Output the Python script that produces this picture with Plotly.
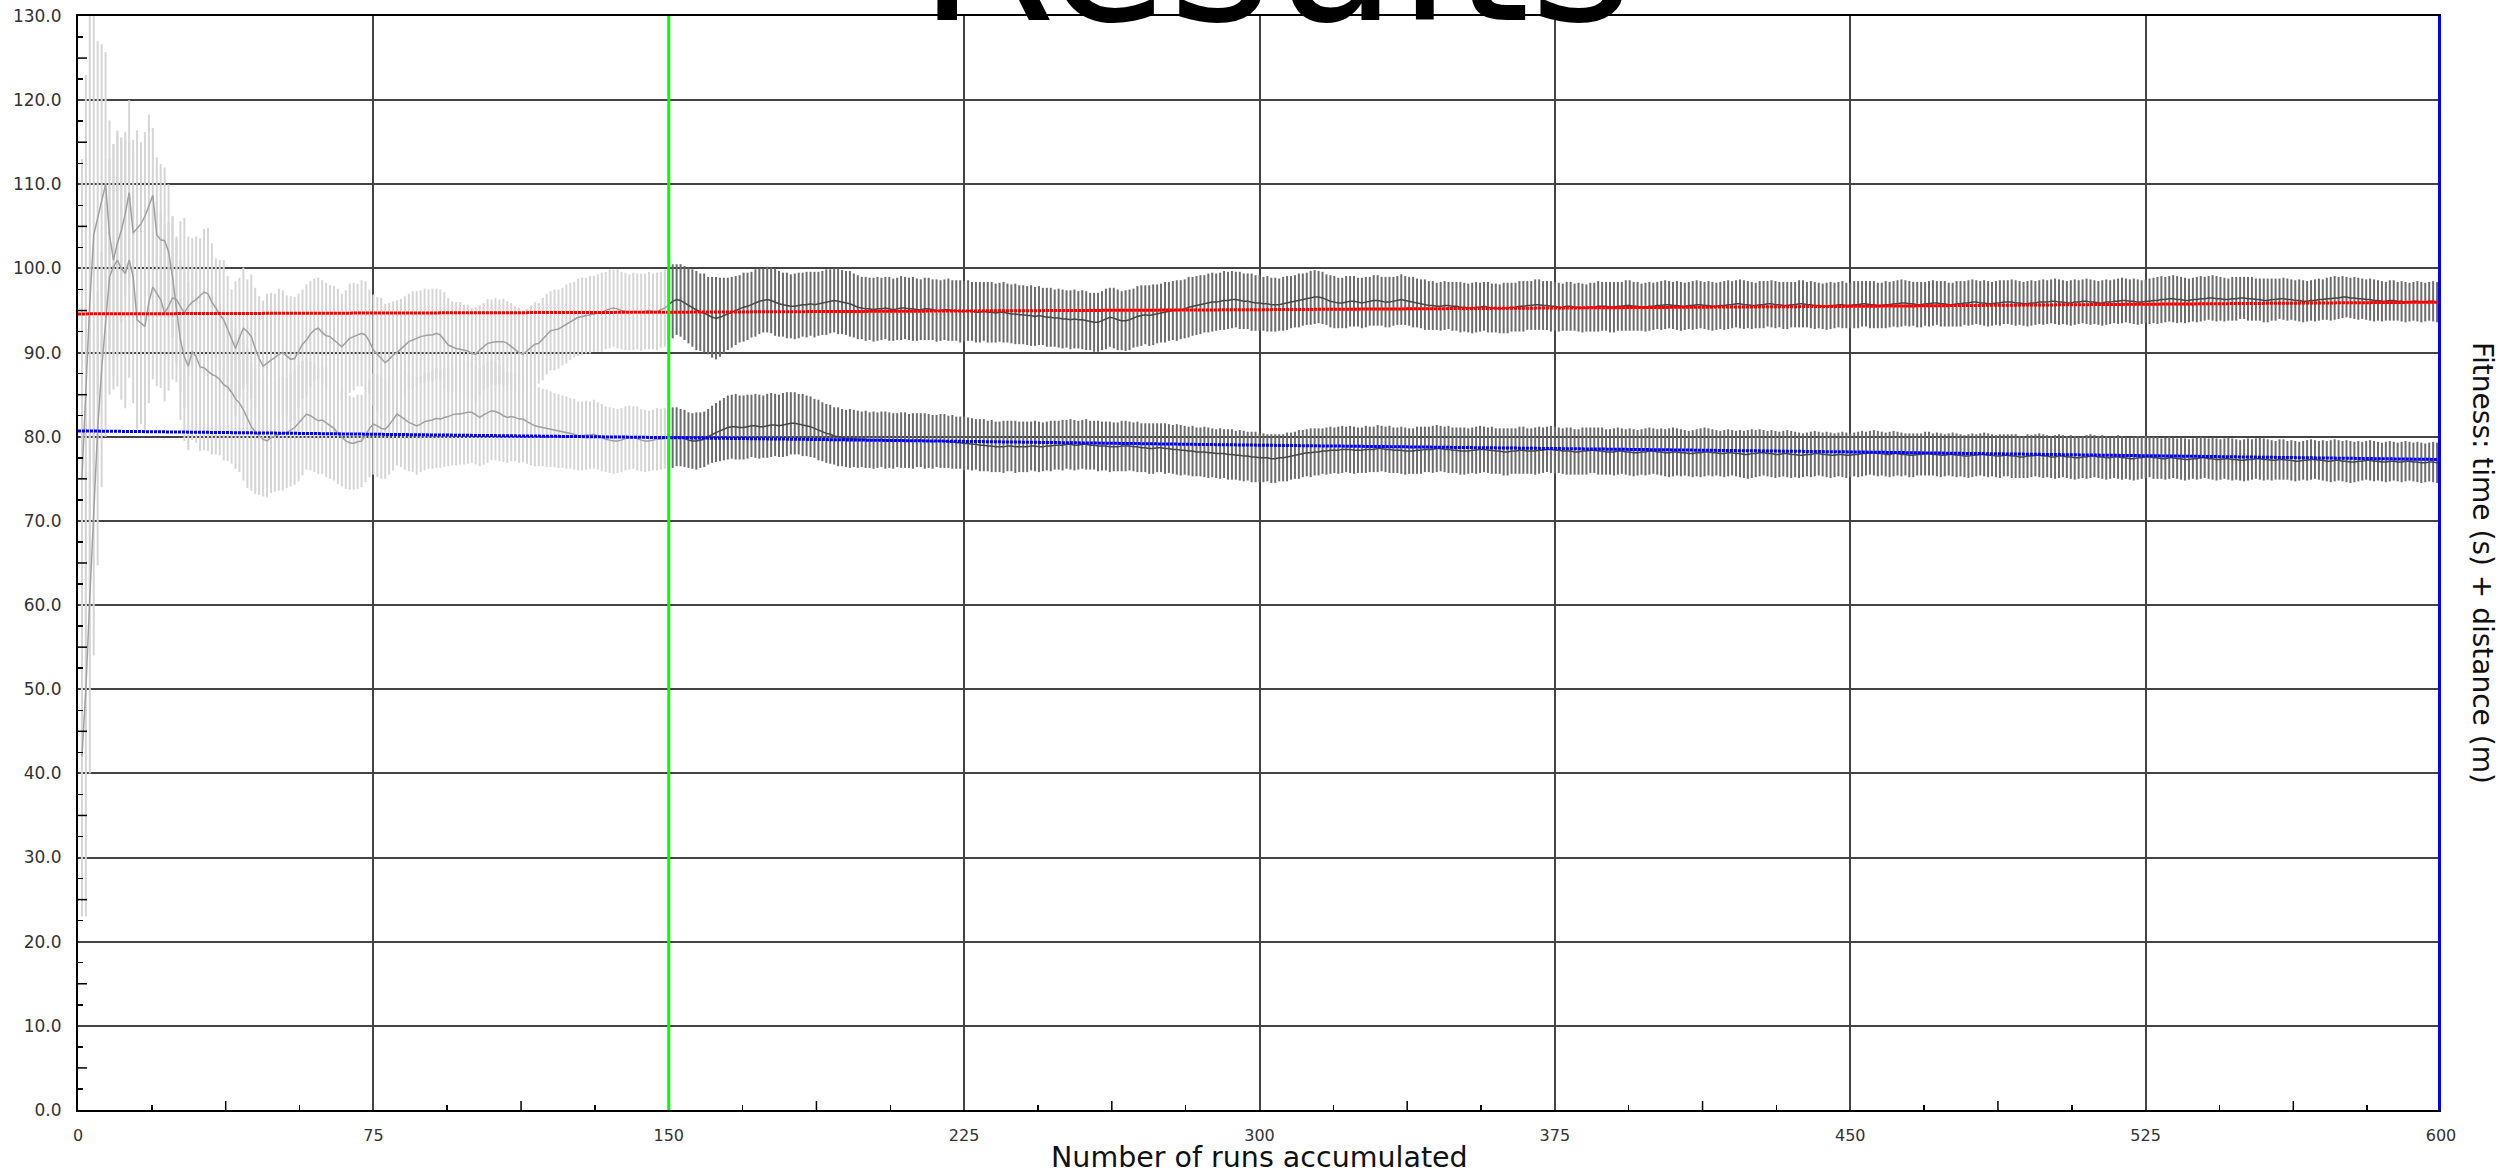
import plotly.graph_objects as go

# ---------------- data ----------------
runs = list(range(1, 601))
phase_change_run = 150          # bars/lines before this run are drawn light
marker_runs = [150, 600]
marker_colors = ["#00ff00", "#0000ff"]
marker_widths = [3, 6]

upper_mean = [
    42, 50, 61, 72, 81, 88, 94, 99, 100.2, 101,
    100, 99.4, 101, 99, 93.9, 93.5, 93.1, 96, 97.8, 97,
    96.3, 94.7, 95.5, 96.5, 96.3, 95.5, 94.7, 95.5, 96, 96.3,
    96.8, 97.2, 97, 96, 95.3, 94.5, 93.9, 92.8, 91.5, 90.5,
    91.8, 92.9, 92.5, 91.9, 90.5, 89.3, 88.4, 88.8, 89.1, 89.4,
    89.8, 90, 89.6, 89.2, 89.3, 90.2, 91, 91.5, 92.2, 92.7,
    92.9, 92.4, 92, 91.9, 91.5, 91, 90.7, 91.2, 91.7, 91.9,
    92.1, 92.3, 92.1, 91.3, 90.3, 89.8, 89.3, 88.8, 89.2, 89.7,
    90, 90.4, 90.9, 91.3, 91.5, 91.7, 91.9, 92, 92.1, 92.1,
    92.3, 92.1, 91.5, 90.9, 90.7, 90.5, 90.4, 90.3, 90.2, 89.9,
    89.8, 90.3, 90.7, 91.1, 91.2, 91.3, 91.3, 91.3, 91.1, 90.7,
    90.4, 90, 89.8, 90.2, 90.7, 91, 91.1, 91.6, 92.2, 92.6,
    92.7, 92.8, 93.1, 93.4, 93.7, 93.9, 94.2, 94.3, 94.4, 94.5,
    94.6, 94.7, 94.8, 95, 95.2, 95.3, 95.2, 95, 94.9, 94.8,
    94.9, 94.9, 94.8, 94.9, 95, 94.9, 94.9, 95.1, 95.3, 95.7,
    96.1, 96.3, 96.2, 95.9, 95.6, 95.3, 95.0, 94.8, 94.7, 94.4,
    94.2, 94.1, 94.2, 94.4, 94.6, 94.8, 95.0, 95.2, 95.4, 95.5,
    95.7, 95.9, 96.1, 96.2, 96.3, 96.2, 96.0, 95.8, 95.7, 95.6,
    95.5, 95.5, 95.6, 95.7, 95.7, 95.8, 95.7, 95.8, 95.9, 96.0,
    96.1, 96.2, 96.1, 96.0, 95.9, 95.8, 95.6, 95.4, 95.3, 95.2,
    95.2, 95.1, 95.2, 95.2, 95.3, 95.2, 95.1, 95.2, 95.3, 95.3,
    95.2, 95.2, 95.1, 95.1, 95.2, 95.2, 95.1, 95.0, 95.0, 95.1,
    95.1, 95.0, 95.0, 94.9, 94.9, 95.0, 94.9, 94.8, 94.8, 94.9,
    94.8, 94.8, 94.7, 94.8, 94.8, 94.7, 94.6, 94.6, 94.5, 94.5,
    94.4, 94.4, 94.3, 94.4, 94.3, 94.2, 94.2, 94.1, 94.1, 94.0,
    94.0, 93.9, 94.0, 93.9, 93.9, 93.8, 93.7, 93.6, 93.6, 93.8,
    94.0, 94.2, 94.1, 93.9, 93.8, 93.8, 93.9, 94.1, 94.3, 94.4,
    94.5, 94.4, 94.5, 94.6, 94.7, 94.8, 94.9, 95.0, 95.0, 95.1,
    95.2, 95.4, 95.5, 95.6, 95.7, 95.8, 95.9, 96.0, 96.0, 96.1,
    96.2, 96.2, 96.3, 96.3, 96.2, 96.1, 96.1, 96.0, 95.9, 95.9,
    95.8, 95.8, 95.7, 95.7, 95.7, 95.8, 95.9, 96.0, 96.1, 96.2,
    96.3, 96.4, 96.5, 96.6, 96.6, 96.5, 96.3, 96.1, 96.0, 95.9,
    95.9, 96.0, 96.1, 96.1, 96.0, 95.9, 96.0, 96.1, 96.2, 96.2,
    96.1, 96.0, 96.0, 96.1, 96.2, 96.3, 96.2, 96.1, 96.0, 95.9,
    95.8, 95.7, 95.6, 95.6, 95.5, 95.5, 95.6, 95.6, 95.5, 95.5,
    95.4, 95.4, 95.3, 95.3, 95.4, 95.4, 95.5, 95.4, 95.3, 95.3,
    95.2, 95.3, 95.3, 95.4, 95.4, 95.5, 95.5, 95.6, 95.6, 95.7,
    95.7, 95.6, 95.6, 95.5, 95.5, 95.4, 95.4, 95.5, 95.5, 95.4,
    95.4, 95.3, 95.3, 95.4, 95.4, 95.5, 95.5, 95.5, 95.4, 95.4,
    95.5, 95.5, 95.6, 95.6, 95.5, 95.5, 95.4, 95.4, 95.5, 95.5,
    95.6, 95.6, 95.7, 95.7, 95.6, 95.6, 95.5, 95.5, 95.6, 95.6,
    95.7, 95.7, 95.6, 95.6, 95.5, 95.5, 95.6, 95.6, 95.7, 95.7,
    95.8, 95.8, 95.7, 95.7, 95.6, 95.6, 95.7, 95.7, 95.8, 95.8,
    95.7, 95.7, 95.6, 95.6, 95.7, 95.7, 95.8, 95.8, 95.7, 95.7,
    95.6, 95.6, 95.5, 95.5, 95.6, 95.6, 95.7, 95.7, 95.6, 95.6,
    95.7, 95.7, 95.8, 95.8, 95.7, 95.7, 95.6, 95.6, 95.7, 95.7,
    95.8, 95.8, 95.9, 95.9, 95.8, 95.8, 95.7, 95.7, 95.8, 95.8,
    95.9, 95.9, 95.8, 95.8, 95.7, 95.7, 95.8, 95.8, 95.9, 95.9,
    96.0, 96.0, 95.9, 95.9, 95.8, 95.8, 95.9, 95.9, 96.0, 96.0,
    96.0, 95.9, 95.9, 95.8, 95.8, 95.9, 95.9, 96.0, 96.0, 96.0,
    96.1, 96.1, 96.0, 96.0, 95.9, 95.9, 96.0, 96.0, 96.1, 96.1,
    96.0, 96.0, 95.9, 95.9, 96.0, 96.0, 96.1, 96.1, 96.2, 96.2,
    96.1, 96.1, 96.0, 96.0, 96.1, 96.1, 96.2, 96.2, 96.3, 96.3,
    96.4, 96.4, 96.3, 96.3, 96.2, 96.2, 96.3, 96.3, 96.4, 96.4,
    96.5, 96.5, 96.4, 96.4, 96.3, 96.3, 96.4, 96.4, 96.5, 96.5,
    96.4, 96.4, 96.3, 96.3, 96.2, 96.2, 96.3, 96.3, 96.4, 96.4,
    96.3, 96.3, 96.2, 96.2, 96.1, 96.1, 96.2, 96.2, 96.3, 96.3,
    96.4, 96.4, 96.5, 96.5, 96.6, 96.6, 96.5, 96.5, 96.4, 96.4,
    96.3, 96.3, 96.2, 96.2, 96.1, 96.1, 96.2, 96.2, 96.1, 96.1,
    96.0, 96.0, 96.1, 96.1, 96.0, 96.0, 96.1, 96.1, 96.0, 96.0,
]

upper_std = [
    19, 27, 21, 18, 16.3, 14, 14, 14, 14.6, 15,
    15.6, 16, 14, 15, 13, 12, 12.5, 12, 11, 11,
    10.5, 10.5, 10, 9.7, 7.5, 10.1, 11.3, 8.3, 7.6, 7.5,
    6.8, 7.5, 7.8, 7, 5.9, 6.5, 7.1, 6.3, 6, 8,
    7.1, 7.2, 6.2, 7.4, 7.2, 7.4, 7.8, 8.2, 8.0, 7.6,
    7.8, 7.4, 7.2, 7.5, 7.3, 6.8, 6.5, 6.6, 6.3, 6.1,
    6.0, 6.2, 6.3, 6.1, 6.4, 6.6, 6.3, 6.2, 6.5, 6.4,
    6.1, 6.3, 6.4, 6.2, 6.6, 6.8, 7.2, 7.0, 6.7, 6.4,
    6.2, 6.0, 5.8, 5.7, 5.8, 5.6, 5.5, 5.6, 5.4, 5.5,
    5.3, 5.4, 5.7, 5.6, 5.4, 5.5, 5.6, 5.4, 5.5, 5.4,
    5.6, 5.3, 5.2, 5.3, 5.1, 5.2, 5.0, 5.1, 5.0, 5.2,
    5.1, 5.3, 5.2, 5.0, 4.9, 5.0, 4.8, 4.9, 4.8, 4.7,
    4.8, 4.7, 4.6, 4.7, 4.6, 4.5, 4.6, 4.6, 4.5, 4.6,
    4.5, 4.6, 4.7, 4.6, 4.7, 4.6, 4.7, 4.6, 4.6, 4.5,
    4.6, 4.5, 4.6, 4.5, 4.6, 4.5, 4.6, 4.5, 4.6, 4.3,
    4.4, 4.2, 4.3, 4.4, 4.5, 4.6, 4.7, 4.6, 4.7, 4.6,
    4.8, 4.9, 4.7, 4.5, 4.3, 4.2, 4.1, 4.0, 4.1, 4.0,
    3.9, 4.0, 3.9, 3.8, 3.9, 3.9, 4.0, 3.9, 3.8, 3.9,
    3.8, 3.9, 3.9, 3.8, 3.9, 3.8, 3.9, 3.8, 3.8, 3.9,
    3.8, 3.8, 3.9, 3.8, 3.8, 3.9, 3.8, 3.8, 3.7, 3.8,
    3.7, 3.8, 3.8, 3.7, 3.7, 3.8, 3.7, 3.7, 3.8, 3.7,
    3.7, 3.8, 3.7, 3.6, 3.7, 3.7, 3.6, 3.7, 3.6, 3.6,
    3.7, 3.6, 3.6, 3.7, 3.6, 3.6, 3.5, 3.6, 3.6, 3.5,
    3.6, 3.6, 3.5, 3.5, 3.6, 3.5, 3.5, 3.6, 3.5, 3.5,
    3.5, 3.6, 3.5, 3.5, 3.4, 3.5, 3.5, 3.4, 3.5, 3.5,
    3.4, 3.5, 3.5, 3.4, 3.5, 3.5, 3.4, 3.5, 3.5, 3.5,
    3.6, 3.5, 3.6, 3.6, 3.5, 3.6, 3.6, 3.5, 3.6, 3.6,
    3.5, 3.6, 3.6, 3.5, 3.5, 3.6, 3.5, 3.5, 3.6, 3.5,
    3.5, 3.6, 3.5, 3.5, 3.5, 3.4, 3.5, 3.5, 3.4, 3.4,
    3.5, 3.4, 3.4, 3.3, 3.4, 3.3, 3.3, 3.4, 3.3, 3.3,
    3.2, 3.3, 3.2, 3.2, 3.1, 3.2, 3.2, 3.1, 3.1, 3.2,
    3.1, 3.1, 3.2, 3.2, 3.1, 3.1, 3.0, 3.1, 3.1, 3.0,
    3.0, 3.1, 3.0, 3.0, 2.9, 3.0, 3.0, 2.9, 3.0, 3.0,
    2.9, 3.0, 3.0, 2.9, 2.9, 3.0, 2.9, 2.9, 3.0, 2.9,
    2.9, 3.0, 2.9, 2.9, 2.8, 2.9, 2.9, 2.8, 2.9, 2.9,
    3.0, 2.9, 2.9, 3.0, 3.0, 2.9, 2.9, 3.0, 2.9, 2.9,
    2.9, 3.0, 3.0, 2.9, 2.9, 3.0, 3.0, 2.9, 2.9, 3.0,
    3.0, 2.9, 2.9, 3.0, 2.9, 2.9, 2.8, 2.9, 2.9, 2.8,
    2.9, 2.9, 2.8, 2.9, 2.9, 3.0, 2.9, 2.9, 3.0, 3.0,
    2.9, 2.9, 3.0, 3.0, 2.9, 2.9, 2.8, 2.9, 2.9, 2.8,
    2.8, 2.9, 2.9, 2.8, 2.8, 2.9, 2.9, 2.8, 2.8, 2.9,
    2.9, 2.8, 2.8, 2.9, 2.9, 2.8, 2.8, 2.9, 2.9, 2.8,
    2.8, 2.9, 2.9, 2.8, 2.8, 2.7, 2.8, 2.8, 2.7, 2.8,
    2.8, 2.7, 2.8, 2.8, 2.7, 2.7, 2.8, 2.8, 2.7, 2.8,
    2.8, 2.7, 2.7, 2.8, 2.8, 2.7, 2.7, 2.8, 2.7, 2.7,
    2.8, 2.8, 2.7, 2.7, 2.8, 2.8, 2.7, 2.7, 2.8, 2.7,
    2.7, 2.8, 2.8, 2.7, 2.7, 2.6, 2.7, 2.7, 2.6, 2.7,
    2.7, 2.6, 2.7, 2.7, 2.6, 2.6, 2.7, 2.7, 2.6, 2.7,
    2.7, 2.6, 2.6, 2.7, 2.7, 2.6, 2.6, 2.7, 2.6, 2.6,
    2.7, 2.7, 2.6, 2.6, 2.7, 2.7, 2.6, 2.6, 2.7, 2.6,
    2.6, 2.7, 2.7, 2.6, 2.6, 2.7, 2.7, 2.6, 2.6, 2.7,
    2.7, 2.6, 2.6, 2.7, 2.7, 2.6, 2.6, 2.7, 2.7, 2.6,
    2.6, 2.7, 2.7, 2.6, 2.6, 2.7, 2.7, 2.8, 2.8, 2.7,
    2.7, 2.8, 2.8, 2.7, 2.7, 2.6, 2.6, 2.7, 2.7, 2.6,
    2.6, 2.7, 2.7, 2.6, 2.6, 2.5, 2.6, 2.6, 2.5, 2.5,
    2.6, 2.6, 2.5, 2.5, 2.6, 2.6, 2.5, 2.5, 2.4, 2.5,
    2.5, 2.4, 2.4, 2.5, 2.5, 2.4, 2.4, 2.5, 2.5, 2.4,
    2.5, 2.6, 2.6, 2.5, 2.5, 2.4, 2.4, 2.5, 2.5, 2.4,
    2.4, 2.5, 2.5, 2.4, 2.4, 2.3, 2.4, 2.4, 2.3, 2.4,
    2.4, 2.3, 2.3, 2.4, 2.4, 2.3, 2.3, 2.4, 2.4, 2.3,
]

lower_mean = [
    75, 85, 96, 104, 106, 108, 110, 104, 101, 103,
    104.5, 106.5, 109, 104.2, 104.7, 105.3, 106.2, 107.5, 108.7, 104,
    103.4, 103.3, 102, 99, 95, 91.5, 89.5, 88.4, 90.1, 89.5,
    88.3, 88.2, 87.8, 87.4, 87.2, 86.8, 86.2, 85.9, 85.3, 84.5,
    84, 83.2, 82.2, 81.2, 80.6, 80.1, 79.7, 79.5, 79.9, 80.1,
    80.3, 80.4, 80.5, 80.8, 81.1, 81.6, 82.2, 82.7, 82.5, 82.2,
    81.9, 82, 81.7, 81.3, 81, 80.4, 79.9, 79.5, 79.3, 79.2,
    79.4, 79.5, 80.2, 81, 81.5, 81.3, 81, 80.9, 81.4, 82,
    82.7, 82.4, 82, 81.7, 81.5, 81.3, 81.5, 81.8, 81.9, 82,
    82.2, 82.1, 82.3, 82.4, 82.6, 82.7, 82.7, 82.8, 82.9, 82.9,
    82.6, 82.3, 82.6, 82.9, 83.1, 83, 82.8, 82.5, 82.3, 82.4,
    82.3, 82.1, 82.1, 81.8, 81.5, 81.3, 81.2, 81.1, 81, 80.9,
    80.8, 80.7, 80.6, 80.5, 80.4, 80.3, 80.1, 80.1, 80.2, 80.2,
    80.3, 80.1, 79.9, 79.7, 79.6, 79.5, 79.5, 79.6, 79.8, 79.9,
    79.9, 79.8, 79.6, 79.5, 79.5, 79.6, 79.7, 79.7, 79.8, 79.8,
    79.9, 80.0, 79.9, 79.8, 79.6, 79.5, 79.5, 79.6, 79.7, 80.0,
    80.3, 80.5, 80.7, 80.9, 81.1, 81.2, 81.2, 81.1, 81.1, 81.2,
    81.3, 81.3, 81.2, 81.2, 81.3, 81.4, 81.4, 81.3, 81.4, 81.5,
    81.6, 81.6, 81.5, 81.4, 81.3, 81.2, 81.0, 80.8, 80.6, 80.4,
    80.3, 80.1, 80.0, 79.9, 79.8, 79.8, 79.8, 79.7, 79.7, 79.7,
    79.6, 79.6, 79.6, 79.7, 79.6, 79.6, 79.5, 79.6, 79.6, 79.6,
    79.5, 79.5, 79.6, 79.6, 79.5, 79.5, 79.4, 79.5, 79.5, 79.5,
    79.4, 79.4, 79.3, 79.3, 79.2, 79.2, 79.1, 79.1, 79.0, 79.0,
    78.9, 78.9, 78.8, 78.8, 78.8, 78.9, 78.9, 78.8, 78.8, 78.8,
    78.8, 78.9, 78.9, 78.8, 78.8, 78.9, 78.9, 79.0, 79.0, 79.0,
    79.1, 79.1, 79.0, 79.0, 79.1, 79.1, 79.0, 79.0, 78.9, 78.9,
    78.9, 78.8, 78.8, 78.8, 78.9, 78.9, 78.9, 78.8, 78.8, 78.7,
    78.7, 78.6, 78.6, 78.7, 78.7, 78.6, 78.6, 78.5, 78.5, 78.4,
    78.4, 78.3, 78.3, 78.2, 78.2, 78.2, 78.1, 78.1, 78.0, 78.0,
    78.0, 77.9, 77.9, 77.8, 77.8, 77.7, 77.7, 77.6, 77.6, 77.5,
    77.5, 77.5, 77.4, 77.4, 77.5, 77.5, 77.6, 77.7, 77.8, 77.9,
    78.0, 78.1, 78.1, 78.2, 78.2, 78.3, 78.3, 78.4, 78.4, 78.4,
    78.5, 78.5, 78.5, 78.4, 78.4, 78.4, 78.5, 78.5, 78.5, 78.6,
    78.6, 78.5, 78.5, 78.4, 78.4, 78.4, 78.3, 78.3, 78.3, 78.4,
    78.4, 78.5, 78.5, 78.5, 78.6, 78.6, 78.5, 78.5, 78.4, 78.4,
    78.3, 78.3, 78.3, 78.4, 78.4, 78.5, 78.5, 78.4, 78.4, 78.3,
    78.3, 78.2, 78.2, 78.3, 78.3, 78.4, 78.4, 78.3, 78.3, 78.3,
    78.4, 78.4, 78.5, 78.5, 78.4, 78.4, 78.3, 78.3, 78.3, 78.2,
    78.2, 78.3, 78.3, 78.4, 78.4, 78.3, 78.3, 78.2, 78.2, 78.2,
    78.3, 78.3, 78.2, 78.2, 78.1, 78.1, 78.2, 78.2, 78.3, 78.3,
    78.2, 78.2, 78.1, 78.1, 78.2, 78.2, 78.1, 78.1, 78.0, 78.0,
    78.1, 78.1, 78.2, 78.2, 78.1, 78.1, 78.0, 78.0, 78.1, 78.1,
    78.0, 78.0, 77.9, 77.9, 78.0, 78.0, 78.1, 78.1, 78.0, 78.0,
    77.9, 77.9, 78.0, 78.0, 77.9, 77.9, 77.8, 77.8, 77.9, 77.9,
    78.0, 78.0, 77.9, 77.9, 77.8, 77.8, 77.9, 77.9, 77.8, 77.8,
    77.9, 77.9, 78.0, 78.0, 78.1, 78.1, 78.0, 78.0, 77.9, 77.9,
    78.0, 78.0, 77.9, 77.9, 77.8, 77.8, 77.9, 77.9, 78.0, 78.0,
    77.9, 77.9, 77.8, 77.8, 77.9, 77.9, 77.8, 77.8, 77.7, 77.7,
    77.8, 77.8, 77.9, 77.9, 77.8, 77.8, 77.7, 77.7, 77.8, 77.8,
    77.7, 77.7, 77.6, 77.6, 77.7, 77.7, 77.8, 77.8, 77.7, 77.7,
    77.6, 77.6, 77.7, 77.7, 77.6, 77.6, 77.5, 77.5, 77.6, 77.6,
    77.7, 77.7, 77.6, 77.6, 77.5, 77.5, 77.6, 77.6, 77.5, 77.5,
    77.4, 77.4, 77.5, 77.5, 77.6, 77.6, 77.5, 77.5, 77.4, 77.4,
    77.5, 77.5, 77.4, 77.4, 77.3, 77.3, 77.4, 77.4, 77.5, 77.5,
    77.4, 77.4, 77.3, 77.3, 77.4, 77.4, 77.3, 77.3, 77.2, 77.2,
    77.3, 77.3, 77.4, 77.4, 77.3, 77.3, 77.2, 77.2, 77.3, 77.3,
    77.2, 77.2, 77.1, 77.1, 77.2, 77.2, 77.3, 77.3, 77.2, 77.2,
    77.1, 77.1, 77.2, 77.2, 77.1, 77.1, 77.0, 77.0, 77.1, 77.1,
    77.2, 77.2, 77.1, 77.1, 77.0, 77.0, 77.1, 77.1, 77.0, 77.0,
    77.1, 77.1, 77.0, 77.0, 76.9, 76.9, 77.0, 77.0, 76.9, 76.9,
]

lower_std = [
    38, 38, 34, 30, 21, 18.6, 15.7, 13.6, 13.8, 13.4,
    11, 9.7, 11, 11.1, 11.7, 9.7, 10, 10.8, 8, 9.2,
    9, 8.7, 8, 7.2, 8.5, 9.5, 10, 10, 10.5, 10.2,
    10, 9.8, 9.5, 9.5, 9.3, 9, 9, 8.8, 8.5, 8.3,
    8.2, 8.4, 8.3, 7.6, 7.4, 7.0, 6.8, 6.7, 6.6, 6.6,
    6.7, 6.8, 6.6, 6.7, 6.8, 6.9, 6.8, 6.6, 6.5, 6.4,
    6.3, 6.4, 6.5, 6.3, 6.2, 6.0, 5.8, 5.7, 5.6, 5.5,
    5.6, 5.5, 5.6, 5.8, 6.0, 6.1, 6.0, 5.9, 5.9, 6.0,
    6.1, 6.0, 5.9, 5.8, 5.7, 5.8, 5.7, 5.8, 5.7, 5.8,
    5.9, 5.8, 5.9, 5.9, 6.0, 6.1, 6.0, 6.1, 6.1, 6.0,
    5.9, 5.8, 5.9, 6.0, 5.9, 5.8, 5.7, 5.5, 5.4, 5.3,
    5.2, 5.2, 5.1, 5.0, 4.9, 4.8, 4.7, 4.6, 4.6, 4.5,
    4.4, 4.4, 4.3, 4.3, 4.2, 4.2, 4.1, 4.1, 4.1, 4.0,
    4.1, 4.0, 4.0, 3.9, 3.9, 3.9, 3.8, 3.8, 3.8, 3.8,
    3.7, 3.8, 3.7, 3.7, 3.6, 3.6, 3.7, 3.6, 3.6, 3.5,
    3.6, 3.5, 3.4, 3.4, 3.3, 3.3, 3.4, 3.3, 3.3, 3.3,
    3.4, 3.5, 3.6, 3.7, 3.8, 3.8, 3.9, 3.8, 3.8, 3.8,
    3.7, 3.8, 3.8, 3.7, 3.8, 3.8, 3.7, 3.7, 3.8, 3.8,
    3.7, 3.7, 3.6, 3.7, 3.6, 3.6, 3.5, 3.6, 3.5, 3.5,
    3.5, 3.4, 3.5, 3.4, 3.4, 3.5, 3.4, 3.4, 3.3, 3.4,
    3.3, 3.4, 3.3, 3.3, 3.4, 3.3, 3.3, 3.2, 3.3, 3.3,
    3.2, 3.3, 3.2, 3.2, 3.3, 3.2, 3.2, 3.1, 3.2, 3.2,
    3.1, 3.2, 3.1, 3.1, 3.2, 3.1, 3.1, 3.0, 3.1, 3.1,
    3.0, 3.1, 3.0, 3.0, 3.1, 3.0, 3.0, 3.1, 3.0, 3.0,
    3.0, 2.9, 3.0, 3.0, 2.9, 2.9, 3.0, 2.9, 2.9, 3.0,
    2.9, 3.0, 3.0, 2.9, 2.9, 3.0, 2.9, 2.9, 3.0, 2.9,
    2.9, 3.0, 2.9, 2.9, 3.0, 3.0, 2.9, 2.9, 3.0, 2.9,
    2.9, 3.0, 3.0, 2.9, 2.9, 3.0, 2.9, 2.9, 3.0, 3.0,
    2.9, 2.9, 3.0, 2.9, 2.9, 3.0, 3.0, 2.9, 2.9, 3.0,
    2.9, 3.0, 3.0, 2.9, 3.0, 3.0, 2.9, 3.0, 3.0, 2.9,
    2.9, 2.8, 2.9, 2.9, 2.8, 2.8, 2.9, 2.8, 2.8, 2.9,
    2.8, 2.8, 2.9, 2.8, 2.8, 2.7, 2.8, 2.8, 2.7, 2.8,
    2.8, 2.7, 2.8, 2.8, 2.7, 2.7, 2.8, 2.7, 2.7, 2.8,
    2.7, 2.7, 2.8, 2.7, 2.7, 2.8, 2.8, 2.7, 2.7, 2.8,
    2.8, 2.7, 2.7, 2.8, 2.8, 2.7, 2.7, 2.8, 2.7, 2.7,
    2.8, 2.8, 2.7, 2.7, 2.8, 2.8, 2.7, 2.7, 2.8, 2.7,
    2.7, 2.8, 2.8, 2.7, 2.7, 2.8, 2.8, 2.7, 2.7, 2.8,
    2.8, 2.7, 2.7, 2.8, 2.8, 2.7, 2.7, 2.8, 2.8, 2.7,
    2.7, 2.8, 2.8, 2.7, 2.7, 2.8, 2.8, 2.7, 2.7, 2.8,
    2.8, 2.7, 2.7, 2.8, 2.8, 2.7, 2.7, 2.8, 2.8, 2.7,
    2.7, 2.8, 2.8, 2.9, 2.9, 2.8, 2.8, 2.7, 2.7, 2.8,
    2.8, 2.9, 2.9, 2.8, 2.8, 2.7, 2.7, 2.8, 2.8, 2.7,
    2.7, 2.8, 2.8, 2.9, 2.9, 2.8, 2.8, 2.7, 2.7, 2.8,
    2.8, 2.7, 2.7, 2.8, 2.8, 2.7, 2.7, 2.6, 2.6, 2.7,
    2.7, 2.6, 2.6, 2.7, 2.7, 2.6, 2.6, 2.7, 2.7, 2.6,
    2.6, 2.7, 2.7, 2.6, 2.6, 2.7, 2.7, 2.6, 2.6, 2.7,
    2.7, 2.6, 2.6, 2.5, 2.6, 2.6, 2.5, 2.5, 2.6, 2.6,
    2.5, 2.6, 2.6, 2.5, 2.5, 2.6, 2.6, 2.5, 2.5, 2.6,
    2.6, 2.5, 2.5, 2.6, 2.6, 2.5, 2.5, 2.6, 2.5, 2.5,
    2.6, 2.6, 2.5, 2.5, 2.6, 2.5, 2.5, 2.6, 2.6, 2.5,
    2.5, 2.6, 2.6, 2.5, 2.5, 2.6, 2.6, 2.5, 2.5, 2.6,
    2.6, 2.5, 2.5, 2.6, 2.6, 2.5, 2.5, 2.6, 2.6, 2.5,
    2.5, 2.6, 2.6, 2.5, 2.5, 2.4, 2.5, 2.5, 2.4, 2.5,
    2.5, 2.4, 2.4, 2.5, 2.5, 2.4, 2.4, 2.5, 2.5, 2.4,
    2.4, 2.5, 2.5, 2.4, 2.4, 2.5, 2.5, 2.4, 2.4, 2.5,
    2.5, 2.4, 2.4, 2.5, 2.5, 2.4, 2.4, 2.3, 2.4, 2.4,
    2.3, 2.4, 2.4, 2.3, 2.3, 2.4, 2.4, 2.3, 2.3, 2.4,
    2.4, 2.5, 2.5, 2.4, 2.4, 2.5, 2.5, 2.4, 2.4, 2.3,
    2.3, 2.4, 2.4, 2.3, 2.3, 2.4, 2.4, 2.3, 2.3, 2.4,
    2.4, 2.3, 2.3, 2.4, 2.4, 2.3, 2.3, 2.4, 2.4, 2.3,
]

trend_runs = [0, 150, 300, 450, 600]
upper_trend = [94.6, 94.8, 95.1, 95.5, 96.0]
lower_trend = [80.7, 79.9, 79.0, 78.2, 77.3]

x_ticks = [0, 75, 150, 225, 300, 375, 450, 525, 600]
x_tick_labels = ["0", "75", "150", "225", "300", "375", "450", "525", "600"]
x_mid_ticks = [37.5, 112.5, 187.5, 262.5, 337.5, 412.5, 487.5, 562.5]
x_minor_ticks = [18.75 + 37.5 * k for k in range(16)]
y_ticks = [0, 10, 20, 30, 40, 50, 60, 70, 80, 90, 100, 110, 120, 130]
y_tick_labels = ["0.0", "10.0", "20.0", "30.0", "40.0", "50.0", "60.0", "70.0",
                 "80.0", "90.0", "100.0", "110.0", "120.0", "130.0"]
y_mid_ticks = [5, 15, 25, 35, 45, 55, 65, 75, 85, 95, 105, 115, 125]
y_minor_ticks = [2.5 + 5 * k for k in range(26)]

title_text = "Results"
x_title = "Number of runs accumulated"
y_title = "Fitness: time (s) + distance (m)"

for arr in (upper_mean, upper_std, lower_mean, lower_std):
    assert len(arr) == len(runs), len(arr)

# ---------------- figure ----------------
FONT = "DejaVu Sans"
split = runs.index(phase_change_run)

fig = go.Figure()

def bars(x, y, err, color):
    return go.Scatter(
        x=x, y=y, mode="markers",
        marker=dict(size=1, color="rgba(0,0,0,0)"),
        error_y=dict(type="data", array=err, symmetric=True, color=color,
                     thickness=2, width=0),
        hoverinfo="skip", showlegend=False,
    )

light_bar, dark_bar = "#d5d5d5", "#6c6c6c"
light_line, dark_line = "#a0a0a0", "#474747"

for mean, std in ((upper_mean, upper_std), (lower_mean, lower_std)):
    fig.add_trace(bars(runs[:split], mean[:split], std[:split], light_bar))
for mean, std in ((upper_mean, upper_std), (lower_mean, lower_std)):
    fig.add_trace(bars(runs[split:], mean[split:], std[split:], dark_bar))
for mean in (upper_mean, lower_mean):
    fig.add_trace(go.Scatter(x=runs[:split + 1], y=mean[:split + 1], mode="lines",
                             line=dict(color=light_line, width=1.5),
                             hoverinfo="skip", showlegend=False))
    fig.add_trace(go.Scatter(x=runs[split:], y=mean[split:], mode="lines",
                             line=dict(color=dark_line, width=1.5),
                             hoverinfo="skip", showlegend=False))

fig.add_trace(go.Scatter(x=trend_runs, y=upper_trend, mode="lines",
                         line=dict(color="#ff0000", width=3, dash="3px,1px"),
                         hoverinfo="skip", showlegend=False))
fig.add_trace(go.Scatter(x=trend_runs, y=lower_trend, mode="lines",
                         line=dict(color="#0000ff", width=3, dash="3px,1px"),
                         hoverinfo="skip", showlegend=False))

shapes = []
for v in x_mid_ticks:
    shapes.append(dict(type="line", xref="x", yref="paper", x0=v, x1=v,
                       ysizemode="pixel", yanchor=0, y0=0, y1=9,
                       line=dict(color="black", width=1.5)))
for v in y_mid_ticks:
    shapes.append(dict(type="line", yref="y", xref="paper", y0=v, y1=v,
                       xsizemode="pixel", xanchor=0, x0=0, x1=9,
                       line=dict(color="black", width=1.5)))
for v, c, w in zip(marker_runs, marker_colors, marker_widths):
    shapes.append(dict(type="line", xref="x", yref="paper", x0=v, x1=v,
                       y0=0, y1=1, line=dict(color=c, width=w)))

# page layout: the figure fills the whole 2515x1173 page (body margin removed)
PLOT_LEFT, PLOT_RIGHT, PLOT_TOP, PLOT_BOTTOM = 78, 2441, 16, 1110
W, H = 2515, 1173
L, T = PLOT_LEFT, PLOT_TOP
R, B = W - PLOT_RIGHT, H - PLOT_BOTTOM
plot_w = PLOT_RIGHT - PLOT_LEFT
plot_h = PLOT_BOTTOM - PLOT_TOP

annotations = [
    dict(text=title_text, xref="paper", yref="paper",
         x=(1275 - PLOT_LEFT) / plot_w, y=1 + (PLOT_TOP - 69) / plot_h,
         xanchor="center", yanchor="bottom", showarrow=False,
         font=dict(family=FONT, size=198, color="black")),
    dict(text=x_title, xref="paper", yref="paper",
         x=0.5, y=-(1157 - PLOT_BOTTOM) / plot_h,
         xanchor="center", yanchor="middle", showarrow=False,
         font=dict(family=FONT, size=28.5, color="#111111")),
    dict(text=y_title, xref="paper", yref="paper",
         x=(2483 - PLOT_LEFT) / plot_w, y=0.5, textangle=90,
         xanchor="center", yanchor="middle", showarrow=False,
         font=dict(family=FONT, size=28, color="#111111")),
]

fig.update_layout(
    template="none",
    width=W, height=H,
    margin=dict(l=L, r=R, t=T, b=B, pad=0),
    paper_bgcolor="white", plot_bgcolor="white",
    showlegend=False, hovermode=False,
    shapes=shapes, annotations=annotations,
    xaxis=dict(
        range=[0, 600], tickmode="array", tickvals=x_ticks, ticktext=x_tick_labels,
        showgrid=True, gridcolor="#444444", gridwidth=2, zeroline=False,
        showline=True, linecolor="black", linewidth=2, mirror=True,
        ticks="", ticklabelstandoff=10, ticklabeloverflow="allow",
        tickfont=dict(family=FONT, size=16, color="#333333"),
        minor=dict(tickmode="array", tickvals=x_minor_ticks, ticks="inside",
                   ticklen=5, tickwidth=1.5, tickcolor="black", showgrid=False),
    ),
    yaxis=dict(
        range=[0, 130], tickmode="array", tickvals=y_ticks, ticktext=y_tick_labels,
        showgrid=True, gridcolor="#444444", gridwidth=2, zeroline=False,
        showline=True, linecolor="black", linewidth=2,
        ticks="", ticklabelstandoff=11, ticklabeloverflow="allow",
        tickfont=dict(family=FONT, size=17, color="#333333"),
        minor=dict(tickmode="array", tickvals=y_minor_ticks, ticks="inside",
                   ticklen=5, tickwidth=1.5, tickcolor="black", showgrid=False),
    ),
)

fig.write_html("out.html",
               config={"displayModeBar": False, "staticPlot": True},
               post_script="document.body.style.margin='0';"
                           "document.body.style.overflow='hidden';")
